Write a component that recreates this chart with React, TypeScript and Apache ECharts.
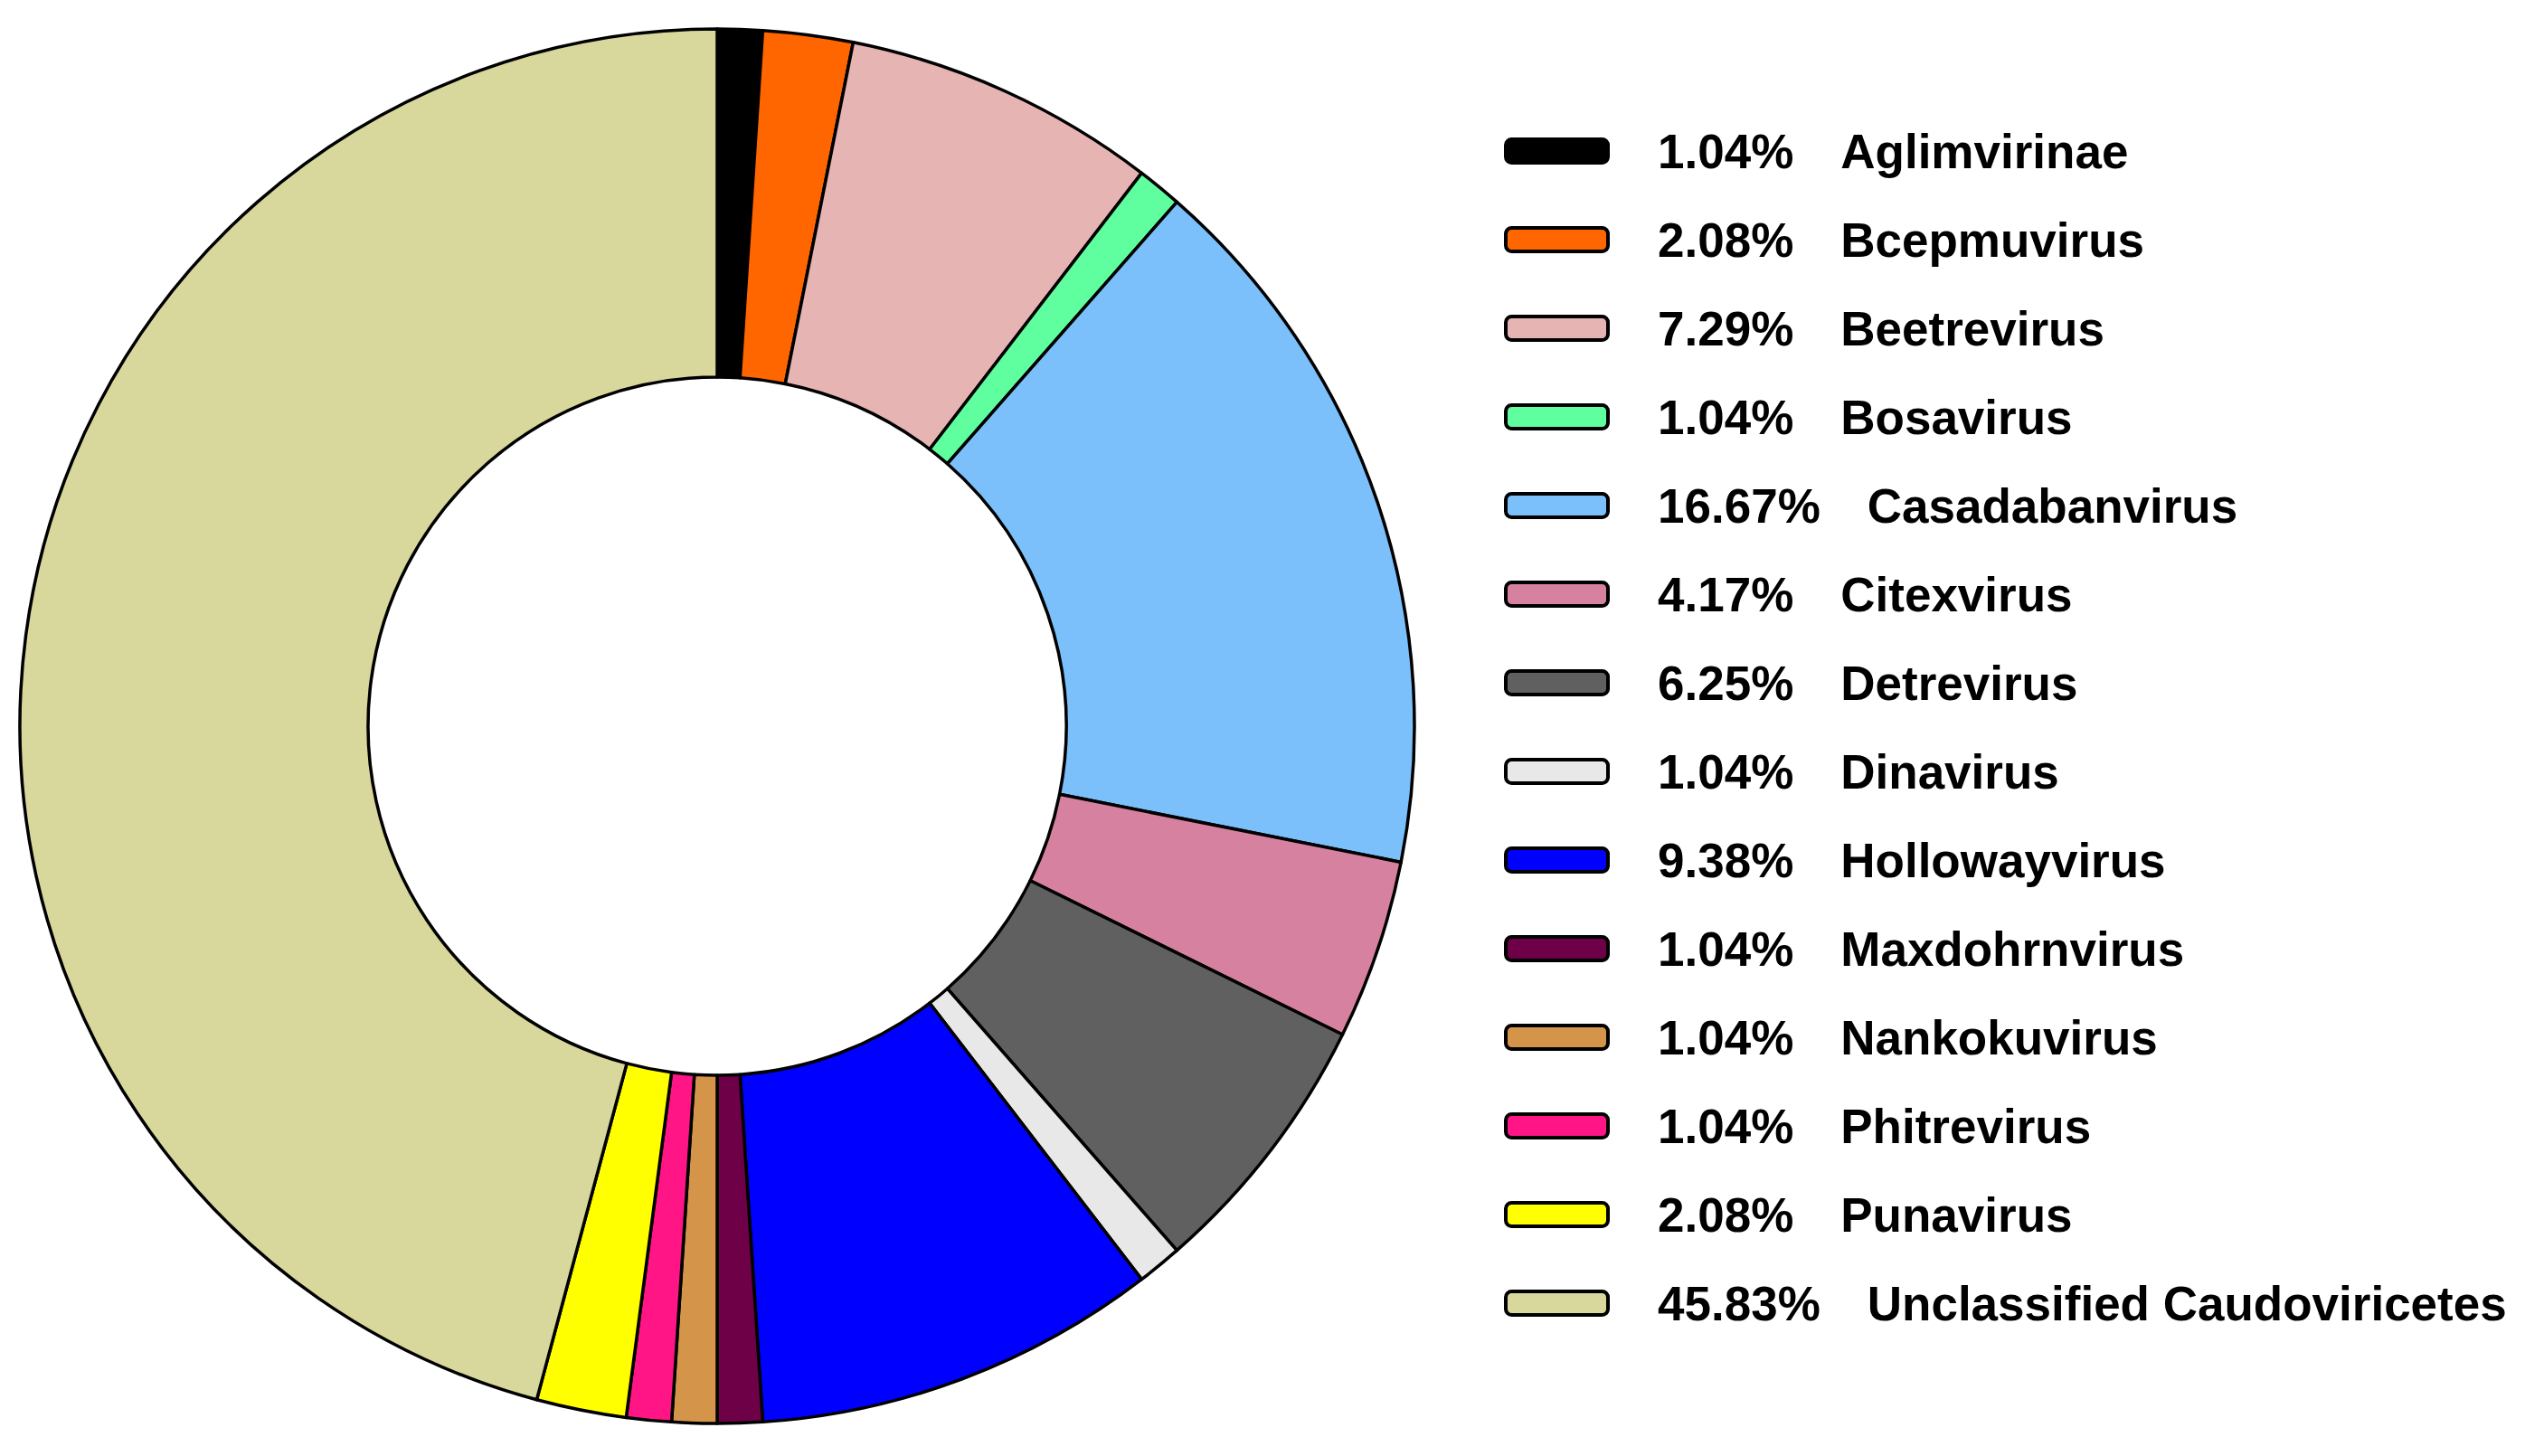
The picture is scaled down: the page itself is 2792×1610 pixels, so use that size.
import React, { useEffect, useRef } from "react";
import * as echarts from "echarts";

const categories = [
  "Aglimvirinae",
  "Bcepmuvirus",
  "Beetrevirus",
  "Bosavirus",
  "Casadabanvirus",
  "Citexvirus",
  "Detrevirus",
  "Dinavirus",
  "Hollowayvirus",
  "Maxdohrnvirus",
  "Nankokuvirus",
  "Phitrevirus",
  "Punavirus",
  "Unclassified Caudoviricetes",
];

const counts = [1, 2, 7, 1, 16, 4, 6, 1, 9, 1, 1, 1, 2, 44];

const percentLabels = [
  "1.04%",
  "2.08%",
  "7.29%",
  "1.04%",
  "16.67%",
  "4.17%",
  "6.25%",
  "1.04%",
  "9.38%",
  "1.04%",
  "1.04%",
  "1.04%",
  "2.08%",
  "45.83%",
];

const colors = [
  "#000000",
  "#FF6600",
  "#E6B4B2",
  "#5FFF9F",
  "#7BBFFB",
  "#D781A1",
  "#606060",
  "#E8E8E8",
  "#0000FF",
  "#6E0047",
  "#D4954A",
  "#FF1585",
  "#FFFF00",
  "#D8D79C",
];

const FONT = "'Liberation Sans', Arial, Helvetica, sans-serif";

export default function App() {
  const ref = useRef<HTMLDivElement>(null);

  useEffect(() => {
    if (!ref.current) return;
    const chart = echarts.init(ref.current, null, { renderer: "svg" });
    const pctMap: Record<string, string> = {};
    categories.forEach((c, i) => (pctMap[c] = percentLabels[i]));

    chart.setOption({
      animation: false,
      backgroundColor: "#ffffff",
      legend: {
        orient: "vertical",
        left: 1658,
        top: 132,
        itemWidth: 113,
        itemHeight: 26,
        itemGap: 38,
        icon: "roundRect",
        selectedMode: false,
        itemStyle: { borderColor: "#000", borderWidth: 4 },
        data: categories,
        formatter: (name: string) => `{p|${pctMap[name]}}{n|${name}}`,
        textStyle: {
          fontFamily: FONT,
          fontWeight: "bold",
          fontSize: 53,
          color: "#000",
          lineHeight: 60,
          rich: {
            p: {
              fontFamily: FONT,
              fontWeight: "bold",
              fontSize: 53,
              color: "#000",
              lineHeight: 60,
              padding: [0, 52, 0, 50],
            },
            n: {
              fontFamily: FONT,
              fontWeight: "bold",
              fontSize: 53,
              color: "#000",
              lineHeight: 60,
            },
          },
        },
      },
      series: [
        {
          type: "pie",
          center: [793, 803],
          radius: [386, 771],
          startAngle: 90,
          clockwise: true,
          label: { show: false },
          labelLine: { show: false },
          emphasis: { disabled: true },
          itemStyle: { borderColor: "#000", borderWidth: 3.5 },
          data: categories.map((c, i) => ({
            name: c,
            value: counts[i],
            itemStyle: { color: colors[i] },
          })),
        },
      ],
    });
    return () => chart.dispose();
  }, []);

  return (
    <div
      ref={ref}
      style={{ position: "absolute", left: 0, top: 0, width: 2792, height: 1610 }}
    />
  );
}
